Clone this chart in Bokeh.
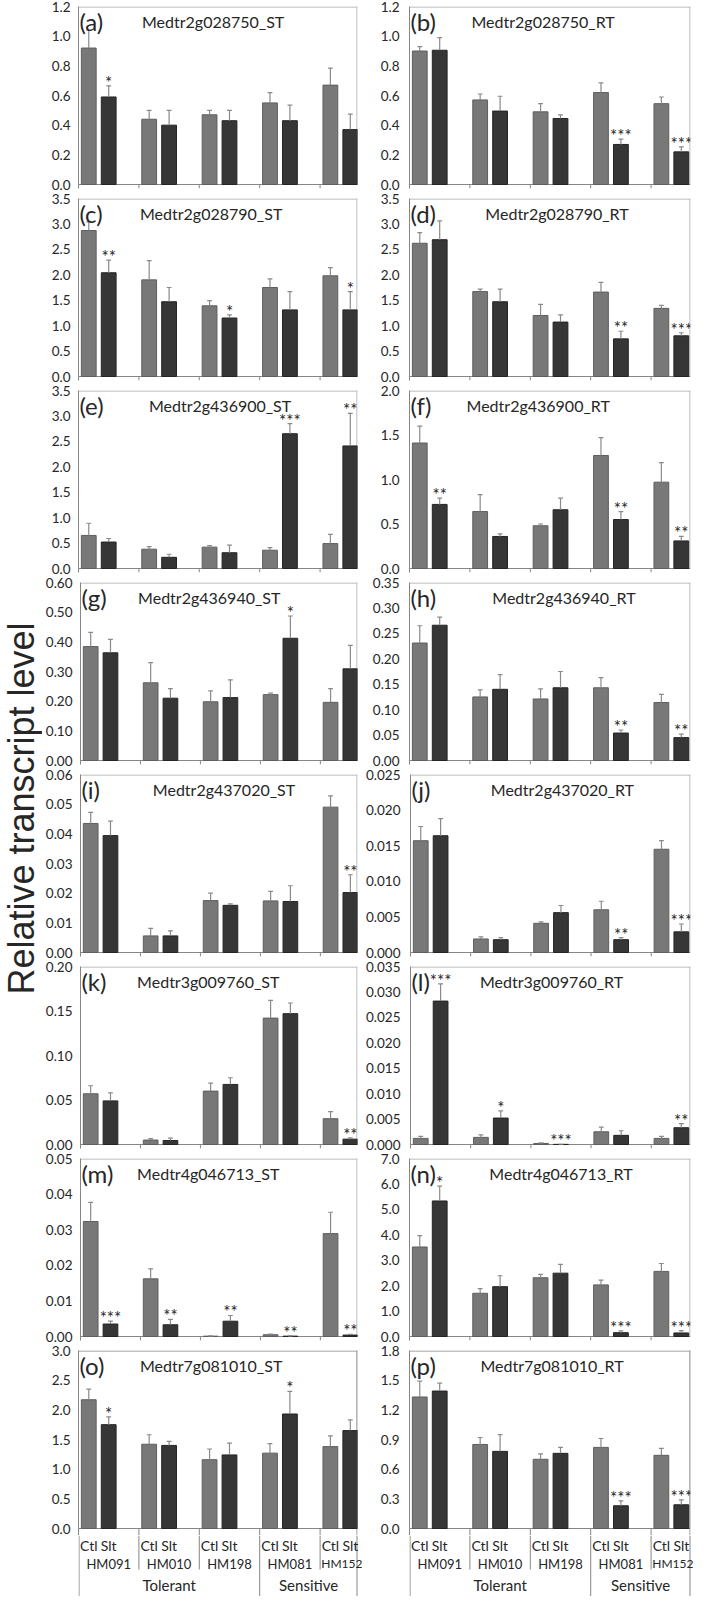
import math
from bokeh.plotting import figure
from bokeh.layouts import row, column
from bokeh.models import Range1d, FixedTicker, PrintfTickFormatter
from bokeh.embed import file_html
from bokeh.resources import INLINE
from bokeh.core.properties import value

# ---------------- categories / texts ----------------
genotypes = ["HM091", "HM010", "HM198", "HM081", "HM152"]
treatments = ["Ctl", "Slt"]
classes = ["Tolerant", "Sensitive"]
class_sizes = [3, 2]
y_title = "Relative transcript level"

panel_tags = ["(a)", "(b)", "(c)", "(d)", "(e)", "(f)", "(g)", "(h)",
              "(i)", "(j)", "(k)", "(l)", "(m)", "(n)", "(o)", "(p)"]
genes = ["Medtr2g028750_ST", "Medtr2g028750_RT",
         "Medtr2g028790_ST", "Medtr2g028790_RT",
         "Medtr2g436900_ST", "Medtr2g436900_RT",
         "Medtr2g436940_ST", "Medtr2g436940_RT",
         "Medtr2g437020_ST", "Medtr2g437020_RT",
         "Medtr3g009760_ST", "Medtr3g009760_RT",
         "Medtr4g046713_ST", "Medtr4g046713_RT",
         "Medtr7g081010_ST", "Medtr7g081010_RT"]

# y axis tick labels: max, step, decimals
y_max = [1.2, 1.2, 3.5, 3.5, 3.5, 2.0, 0.60, 0.35, 0.06, 0.025, 0.20, 0.035, 0.05, 7.0, 3.0, 1.8]
y_step = [0.2, 0.2, 0.5, 0.5, 0.5, 0.5, 0.10, 0.05, 0.01, 0.005, 0.05, 0.005, 0.01, 1.0, 0.5, 0.3]
y_decimals = [1, 1, 1, 1, 1, 1, 2, 2, 2, 3, 2, 3, 2, 1, 1, 1]

# ---------------- series values (mean and error) ----------------
a_ctl = [0.92, 0.44, 0.47, 0.55, 0.67]
a_ctl_se = [0.12, 0.06, 0.03, 0.07, 0.115]
a_slt = [0.59, 0.40, 0.43, 0.43, 0.37]
a_slt_se = [0.075, 0.10, 0.07, 0.105, 0.105]
a_sig = ["*", "", "", "", ""]

b_ctl = [0.90, 0.57, 0.49, 0.62, 0.545]
b_ctl_se = [0.03, 0.04, 0.055, 0.065, 0.045]
b_slt = [0.905, 0.495, 0.445, 0.27, 0.22]
b_slt_se = [0.085, 0.10, 0.024, 0.036, 0.034]
b_sig = ["", "", "", "***", "***"]

c_ctl = [2.87, 1.90, 1.39, 1.75, 1.98]
c_ctl_se = [0.17, 0.38, 0.10, 0.17, 0.16]
c_slt = [2.04, 1.47, 1.15, 1.31, 1.31]
c_slt_se = [0.25, 0.28, 0.06, 0.36, 0.36]
c_sig = ["**", "", "*", "", "*"]

d_ctl = [2.62, 1.67, 1.20, 1.66, 1.34]
d_ctl_se = [0.21, 0.05, 0.22, 0.19, 0.06]
d_slt = [2.69, 1.47, 1.07, 0.74, 0.80]
d_slt_se = [0.37, 0.25, 0.14, 0.15, 0.06]
d_sig = ["", "", "", "**", "***"]

e_ctl = [0.65, 0.38, 0.42, 0.36, 0.49]
e_ctl_se = [0.24, 0.05, 0.03, 0.05, 0.18]
e_slt = [0.52, 0.22, 0.31, 2.65, 2.41]
e_slt_se = [0.07, 0.06, 0.15, 0.20, 0.64]
e_sig = ["", "", "", "***", "**"]

f_ctl = [1.41, 0.64, 0.48, 1.27, 0.97]
f_ctl_se = [0.19, 0.19, 0.02, 0.20, 0.22]
f_slt = [0.72, 0.36, 0.66, 0.55, 0.31]
f_slt_se = [0.07, 0.03, 0.13, 0.09, 0.05]
f_sig = ["**", "", "", "**", "**"]

g_ctl = [0.384, 0.262, 0.198, 0.222, 0.196]
g_ctl_se = [0.048, 0.068, 0.037, 0.005, 0.046]
g_slt = [0.363, 0.210, 0.212, 0.412, 0.309]
g_slt_se = [0.045, 0.032, 0.060, 0.075, 0.079]
g_sig = ["", "", "", "*", ""]

h_ctl = [0.231, 0.125, 0.121, 0.143, 0.114]
h_ctl_se = [0.034, 0.014, 0.020, 0.020, 0.016]
h_slt = [0.266, 0.140, 0.143, 0.054, 0.045]
h_slt_se = [0.016, 0.029, 0.032, 0.006, 0.007]
h_sig = ["", "", "", "**", "**"]

i_ctl = [0.0435, 0.0056, 0.0175, 0.0174, 0.0490]
i_ctl_se = [0.0037, 0.0025, 0.0025, 0.0032, 0.0038]
i_slt = [0.0394, 0.0056, 0.0159, 0.0172, 0.0202]
i_slt_se = [0.0049, 0.0017, 0.0005, 0.0053, 0.0060]
i_sig = ["", "", "", "", "**"]

j_ctl = [0.0157, 0.0019, 0.0041, 0.0060, 0.0145]
j_ctl_se = [0.0020, 0.0003, 0.0002, 0.0012, 0.0012]
j_slt = [0.0164, 0.0018, 0.0056, 0.0018, 0.0029]
j_slt_se = [0.0024, 0.0003, 0.0010, 0.0003, 0.0011]
j_sig = ["", "", "", "**", "***"]

k_ctl = [0.057, 0.005, 0.060, 0.142, 0.029]
k_ctl_se = [0.009, 0.0015, 0.009, 0.020, 0.008]
k_slt = [0.049, 0.0045, 0.0675, 0.147, 0.006]
k_slt_se = [0.009, 0.0026, 0.0075, 0.012, 0.0015]
k_sig = ["", "", "", "", "**"]

l_ctl = [0.0012, 0.0014, 0.0002, 0.0025, 0.0012]
l_ctl_se = [0.0004, 0.0005, 0.0001, 0.0009, 0.0004]
l_slt = [0.0282, 0.0052, 0.00003, 0.0018, 0.0033]
l_slt_se = [0.0034, 0.0014, 0.00002, 0.0009, 0.0008]
l_sig = ["***", "*", "***", "", "**"]

m_ctl = [0.0323, 0.0162, 0.0001, 0.0005, 0.0289]
m_ctl_se = [0.0054, 0.0028, 0.00005, 0.0002, 0.0060]
m_slt = [0.0035, 0.0033, 0.0043, 0.0001, 0.0004]
m_slt_se = [0.0008, 0.0015, 0.0016, 0.00005, 0.0002]
m_sig = ["***", "**", "**", "**", "**"]

n_ctl = [3.52, 1.70, 2.31, 2.03, 2.56]
n_ctl_se = [0.45, 0.18, 0.13, 0.19, 0.31]
n_slt = [5.33, 1.96, 2.49, 0.15, 0.14]
n_slt_se = [0.58, 0.43, 0.35, 0.07, 0.09]
n_sig = ["*", "", "", "***", "***"]

o_ctl = [2.17, 1.42, 1.16, 1.27, 1.38]
o_ctl_se = [0.18, 0.16, 0.18, 0.16, 0.18]
o_slt = [1.75, 1.40, 1.24, 1.93, 1.65]
o_slt_se = [0.13, 0.07, 0.20, 0.38, 0.18]
o_sig = ["*", "", "", "*", ""]

p_ctl = [1.33, 0.85, 0.70, 0.82, 0.74]
p_ctl_se = [0.16, 0.07, 0.055, 0.09, 0.07]
p_slt = [1.39, 0.78, 0.76, 0.23, 0.24]
p_slt_se = [0.08, 0.17, 0.06, 0.05, 0.05]
p_sig = ["", "", "", "***", "***"]

ctl_all = [a_ctl, b_ctl, c_ctl, d_ctl, e_ctl, f_ctl, g_ctl, h_ctl,
           i_ctl, j_ctl, k_ctl, l_ctl, m_ctl, n_ctl, o_ctl, p_ctl]
ctl_se_all = [a_ctl_se, b_ctl_se, c_ctl_se, d_ctl_se, e_ctl_se, f_ctl_se, g_ctl_se, h_ctl_se,
              i_ctl_se, j_ctl_se, k_ctl_se, l_ctl_se, m_ctl_se, n_ctl_se, o_ctl_se, p_ctl_se]
slt_all = [a_slt, b_slt, c_slt, d_slt, e_slt, f_slt, g_slt, h_slt,
           i_slt, j_slt, k_slt, l_slt, m_slt, n_slt, o_slt, p_slt]
slt_se_all = [a_slt_se, b_slt_se, c_slt_se, d_slt_se, e_slt_se, f_slt_se, g_slt_se, h_slt_se,
              i_slt_se, j_slt_se, k_slt_se, l_slt_se, m_slt_se, n_slt_se, o_slt_se, p_slt_se]
sig_all = [a_sig, b_sig, c_sig, d_sig, e_sig, f_sig, g_sig, h_sig,
           i_sig, j_sig, k_sig, l_sig, m_sig, n_sig, o_sig, p_sig]

# ---------------- styles / geometry ----------------
CTL_COLOR = "#787878"
CTL_LINE = "#5e5e5e"
SLT_COLOR = "#363636"
SLT_LINE = "#242424"
ERR_COLOR = "#8a8a8a"
AXIS_COLOR = "#868686"
BOX_COLOR = "#a8a8a8"
TEXT_COLOR = "#262626"
FONT = "Lato"

ROW_H = 192
TOP_B = 6
FRAME_H = 178
TICK_PX = 4          # tick length below the category axis (rows a..n)
SEP_PX = 7           # separator part drawn inside the last-row panels
LAST_H = TOP_B + FRAME_H + SEP_PX
TITLE_W = 42
TOTAL_H = 1596
LABEL_H = TOTAL_H - 7 * ROW_H - LAST_H
COL_W = [320, 331]
MB_L = [36, 47]
MB_R = [5, 3]
LABEL_STANDOFF = [8, 10]
GROUP_PX = 60.4
CTL_OFF = 0.17
SLT_OFF = 0.50
BAR_W = 0.245
CAP = 0.04
title_center_px = [136, 135, 134, 149, 143, 130, 131, 156, 146, 154, 130, 143, 130, 153, 134, 144]

frame_w = [COL_W[c] - MB_L[c] - MB_R[c] for c in range(2)]
XR = [Range1d(0, frame_w[c] / GROUP_PX) for c in range(2)]


def make_panel(i):
    col = i % 2
    last = (i // 2) == 7
    ymax = y_max[i]
    dpp = ymax / FRAME_H
    xmax = XR[col].end
    px = 1.0 / GROUP_PX
    below = SEP_PX if last else TICK_PX
    if last:
        h, mb_bottom = LAST_H, 0
    else:
        h, mb_bottom = ROW_H, ROW_H - TOP_B - FRAME_H - TICK_PX
    fig = figure(width=COL_W[col], height=h, x_range=XR[col], y_range=Range1d(-below * dpp, ymax),
                 output_backend="svg", toolbar_location=None, x_axis_type=None,
                 min_border_left=MB_L[col], min_border_right=MB_R[col],
                 min_border_top=TOP_B, min_border_bottom=mb_bottom)
    fig.grid.visible = False
    fig.outline_line_color = None
    fig.background_fill_color = "white"
    fig.border_fill_color = "white"

    nt = int(round(ymax / y_step[i]))
    ticks = [round(k * y_step[i], 6) for k in range(nt + 1)]
    fig.yaxis.ticker = FixedTicker(ticks=ticks)
    fig.yaxis.formatter = PrintfTickFormatter(format="%." + str(y_decimals[i]) + "f")
    fig.yaxis.major_tick_out = 0
    fig.yaxis.major_tick_in = 0
    fig.yaxis.minor_tick_out = 0
    fig.yaxis.minor_tick_in = 0
    fig.yaxis.axis_line_color = AXIS_COLOR
    fig.yaxis.major_label_standoff = LABEL_STANDOFF[col]
    fig.yaxis.major_label_text_font = FONT
    fig.yaxis.major_label_text_font_size = "13.5px"
    fig.yaxis.major_label_text_color = TEXT_COLOR

    # plot-area box (top + right edge)
    right_bottom = -below * dpp if last else 0
    fig.segment(x0=[0, xmax - 0.5 * px], y0=[ymax - 0.5 * dpp, right_bottom], x1=[xmax, xmax - 0.5 * px],
                y1=[ymax - 0.5 * dpp, ymax], line_color=BOX_COLOR if not last else AXIS_COLOR, line_width=1)
    if last:
        fig.segment(x0=[xmax - 0.5 * px], y0=[0.0], x1=[xmax - 0.5 * px], y1=[ymax],
                    line_color=BOX_COLOR, line_width=1)
    # category axis line and group ticks / separators
    fig.segment(x0=[0], y0=[0], x1=[xmax], y1=[0], line_color=AXIS_COLOR, line_width=1)
    tk = [float(g) for g in range(1, len(genotypes))]
    fig.segment(x0=tk, y0=[0] * len(tk), x1=tk, y1=[-below * dpp] * len(tk),
                line_color=AXIS_COLOR, line_width=1)

    xs_c = [g + CTL_OFF for g in range(len(genotypes))]
    xs_s = [g + SLT_OFF for g in range(len(genotypes))]
    ctl = ctl_all[i]
    slt = slt_all[i]
    top_c = [v + e for v, e in zip(ctl, ctl_se_all[i])]
    top_s = [v + e for v, e in zip(slt, slt_se_all[i])]

    fig.vbar(x=xs_c, top=ctl, bottom=0, width=BAR_W, fill_color=CTL_COLOR, line_color=CTL_LINE, line_width=1)
    fig.vbar(x=xs_s, top=slt, bottom=0, width=BAR_W, fill_color=SLT_COLOR, line_color=SLT_LINE, line_width=1)

    for xs, lo, hi in ((xs_c, ctl, top_c), (xs_s, slt, top_s)):
        fig.segment(x0=xs, y0=lo, x1=xs, y1=hi, line_color=ERR_COLOR, line_width=1.2)
        fig.segment(x0=[x - CAP for x in xs], y0=hi, x1=[x + CAP for x in xs], y1=hi,
                    line_color=ERR_COLOR, line_width=1.2)

    star_y = [t + 3.5 * dpp for t in top_s]
    fig.text(x=xs_s, y=star_y, text=sig_all[i], text_align="center", text_baseline="middle",
             text_font=value(FONT), text_font_size="17px", text_color=TEXT_COLOR)

    fig.text(x=[0.015], y=[ymax], text=[panel_tags[i]], text_align="left", text_baseline="top",
             text_font=value(FONT), text_font_size="24px", text_color=TEXT_COLOR)
    tx = title_center_px[i] * 0.99 / GROUP_PX
    fig.text(x=[tx], y=[ymax - 15 * dpp], text=[genes[i]], text_align="center", text_baseline="middle",
             text_font=value(FONT), text_font_size="16px", text_color=TEXT_COLOR)
    return fig


def make_category_axis(col):
    xmax = XR[col].end
    px = 1.0 / GROUP_PX
    xr = Range1d(0, (frame_w[col] + MB_R[col]) / GROUP_PX)
    y_top = -SEP_PX
    y_bot = -SEP_PX - LABEL_H
    fig = figure(width=COL_W[col], height=LABEL_H, x_range=xr, y_range=Range1d(y_bot, y_top),
                 output_backend="svg", toolbar_location=None, x_axis_type=None, y_axis_type=None,
                 min_border_left=MB_L[col], min_border_right=0,
                 min_border_top=0, min_border_bottom=0)
    fig.grid.visible = False
    fig.outline_line_color = None
    # separators: long at class boundaries and plot edges, short between genotypes
    bounds_long = [0.5 * px, float(class_sizes[0]), xmax - 0.5 * px]
    bounds_short = [float(g) for g in range(1, len(genotypes)) if g != class_sizes[0]]
    fig.segment(x0=bounds_long, y0=[y_top] * 3, x1=bounds_long, y1=[y_bot] * 3,
                line_color=AXIS_COLOR, line_width=1)
    fig.segment(x0=bounds_short, y0=[y_top] * len(bounds_short), x1=bounds_short,
                y1=[-41] * len(bounds_short), line_color=AXIS_COLOR, line_width=1)

    tx, ty, tt = [], [], []
    hx, hy, ht = [], [], []
    lx, ly, lt = [], [], []
    for g, name in enumerate(genotypes):
        tx += [g + CTL_OFF, g + SLT_OFF]
        ty += [-17, -17]
        tt += [treatments[0], treatments[1]]
        if g + 1.0 <= xmax:
            hx.append(g + 0.5)
            hy.append(-35)
            ht.append(name)
        else:
            lx.append(g + 1.2 * px)
            ly.append(-35)
            lt.append(name)
    fig.text(x=tx, y=ty, text=tt, text_align="center", text_baseline="middle",
             text_font=value(FONT), text_font_size="14px", text_color=TEXT_COLOR)
    fig.text(x=hx, y=hy, text=ht, text_align="center", text_baseline="middle",
             text_font=value(FONT), text_font_size="13px", text_color=TEXT_COLOR)
    fig.text(x=lx, y=ly, text=lt, text_align="left", text_baseline="middle",
             text_font=value(FONT), text_font_size="12px", text_color=TEXT_COLOR)

    cx, cy, ct = [], [], []
    start = 0
    for cname, size in zip(classes, class_sizes):
        end = min(start + size, xmax)
        cx.append((start + end) / 2)
        cy.append(-56)
        ct.append(cname)
        start += size
    fig.text(x=cx, y=cy, text=ct, text_align="center", text_baseline="middle",
             text_font=value(FONT), text_font_size="15px", text_color=TEXT_COLOR)
    return fig


def make_title():
    fig = figure(width=TITLE_W, height=TOTAL_H, x_range=Range1d(0, TITLE_W), y_range=Range1d(0, TOTAL_H),
                 output_backend="svg", toolbar_location=None, x_axis_type=None, y_axis_type=None,
                 min_border_left=0, min_border_right=0, min_border_top=0, min_border_bottom=0)
    fig.grid.visible = False
    fig.outline_line_color = None
    fig.text(x=[21], y=[TOTAL_H - 808], text=[y_title], angle=math.pi / 2,
             text_align="center", text_baseline="middle",
             text_font=value("Liberation Sans"), text_font_size="36px", text_color=TEXT_COLOR)
    return fig


panels = [make_panel(i) for i in range(16)]
rows = [row(panels[2 * r], panels[2 * r + 1]) for r in range(8)]
rows.append(row(make_category_axis(0), make_category_axis(1)))
layout = row(make_title(), column(*rows))

open("out.html", "w").write(file_html(layout, INLINE))
